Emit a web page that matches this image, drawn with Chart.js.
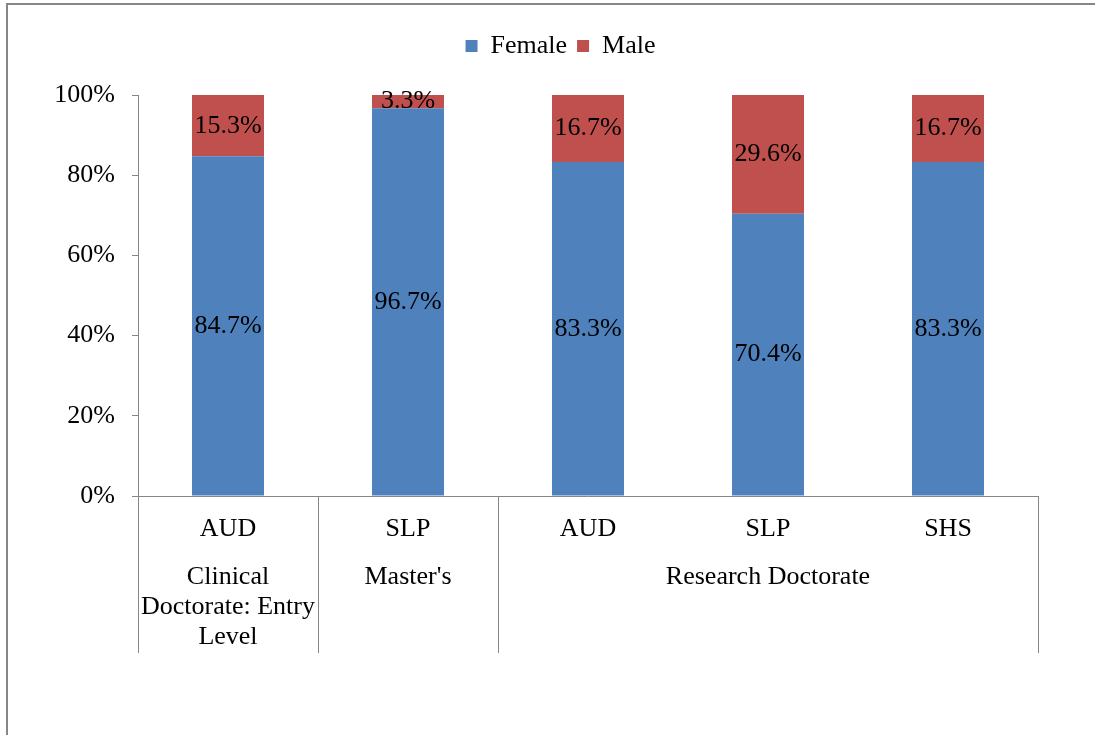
<!DOCTYPE html>
<html>
<head>
<meta charset="utf-8">
<script src="https://cdn.jsdelivr.net/npm/chart.js@4.4.0/dist/chart.umd.min.js"></script>
<style>
  html, body { margin: 0; padding: 0; background: #fff; }
  #wrap { width: 1095px; height: 735px; position: relative; }
</style>
</head>
<body>
<div id="wrap"><canvas id="chart-genero"></canvas></div>
<script>
// programas (nivel 1) y grupos (nivel 2)
const programs = ['AUD', 'SLP', 'AUD', 'SLP', 'SHS'];
const groups = [
  { label: ['Clinical', 'Doctorate: Entry', 'Level'], from: 0, to: 0 },
  { label: ["Master's"], from: 1, to: 1 },
  { label: ['Research Doctorate'], from: 2, to: 4 }
];
const female = [84.7, 96.7, 83.3, 70.4, 83.3];
const male = [15.3, 3.3, 16.7, 29.6, 16.7];
const yTicks = [0, 20, 40, 60, 80, 100];

const FONT = '"Liberation Serif", "Times New Roman", serif';
const GRIS = '#868686';

const extras = {
  id: 'extras',
  beforeInit(chart) {
    // espacio extra debajo de la leyenda
    const fit = chart.legend.fit;
    chart.legend.fit = function() {
      fit.call(this);
      this.height += 26;
    };
  },
  afterLayout(chart) {
    chart.legend.left += 38;
    chart.legend.right += 38;
  },
  afterDatasetsDraw(chart) {
    const ctx = chart.ctx;
    ctx.save();
    ctx.font = '26px ' + FONT;
    ctx.fillStyle = '#000';
    ctx.textAlign = 'center';
    ctx.textBaseline = 'middle';
    chart.data.datasets.forEach(function(ds, i) {
      chart.getDatasetMeta(i).data.forEach(function(bar, j) {
        const yc = (bar.y + bar.base) / 2;
        ctx.fillText(ds.data[j].toFixed(1) + '%', bar.x, yc);
      });
    });
    ctx.restore();
  },
  afterDraw(chart) {
    const ctx = chart.ctx;
    const x = chart.scales.x;
    const area = chart.chartArea;
    const half = (x.getPixelForValue(1) - x.getPixelForValue(0)) / 2;
    const bottom = 653;
    ctx.save();
    // marco exterior
    ctx.strokeStyle = GRIS;
    ctx.lineWidth = 2;
    ctx.beginPath();
    ctx.moveTo(7, 735);
    ctx.lineTo(7, 4);
    ctx.lineTo(1095, 4);
    ctx.stroke();
    // separadores de grupos
    ctx.lineWidth = 1;
    const edges = [-0.5];
    groups.forEach(function(g) { edges.push(g.to + 0.5); });
    edges.forEach(function(e) {
      const px = Math.round(x.getPixelForValue(0) + (e * 2) * half) + 0.5;
      ctx.beginPath();
      ctx.moveTo(px, area.bottom);
      ctx.lineTo(px, bottom);
      ctx.stroke();
    });
    // etiquetas de grupos
    ctx.font = '26px ' + FONT;
    ctx.fillStyle = '#000';
    ctx.textAlign = 'center';
    ctx.textBaseline = 'middle';
    groups.forEach(function(g) {
      const cx = (x.getPixelForValue(g.from) + x.getPixelForValue(g.to)) / 2;
      g.label.forEach(function(line, k) {
        ctx.fillText(line, cx, 577 + k * 30);
      });
    });
    ctx.restore();
  }
};

const ctx = document.getElementById('chart-genero');
const generoChart = new Chart(ctx, {
  type: 'bar',
  data: {
    labels: programs,
    datasets: [
      {
        label: 'Female',
        data: female,
        backgroundColor: '#4F81BD',
        barPercentage: 0.4,
        categoryPercentage: 1
      },
      {
        label: 'Male',
        data: male,
        backgroundColor: '#C0504D',
        barPercentage: 0.4,
        categoryPercentage: 1
      }
    ]
  },
  options: {
    responsive: true,
    maintainAspectRatio: false,
    animation: false,
    layout: {
      padding: { left: 7, right: 57, top: 23, bottom: 0 }
    },
    plugins: {
      legend: {
        display: true,
        position: 'top',
        labels: {
          boxWidth: 12,
          boxHeight: 12,
          color: '#000',
          font: { family: FONT, size: 26 },
          padding: 10
        }
      },
      tooltip: { enabled: false }
    },
    scales: {
      x: {
        stacked: true,
        afterFit: function(s) { s.height = 239; },
        grid: { drawOnChartArea: false, drawTicks: false },
        border: { color: GRIS, width: 1 },
        ticks: {
          color: '#000',
          padding: 18,
          font: { family: FONT, size: 26 }
        }
      },
      y: {
        stacked: true,
        min: 0,
        max: 100,
        afterFit: function(s) { s.width = 131; },
        afterBuildTicks: function(s) {
          s.ticks = yTicks.map(function(v) { return { value: v }; });
        },
        grid: { drawOnChartArea: false, drawTicks: true, tickLength: 6, color: GRIS },
        border: { color: GRIS, width: 1 },
        ticks: {
          color: '#000',
          padding: 17,
          font: { family: FONT, size: 26 },
          callback: function(v) { return v + '%'; }
        }
      }
    }
  },
  plugins: [extras]
});
</script>
</body>
</html>
